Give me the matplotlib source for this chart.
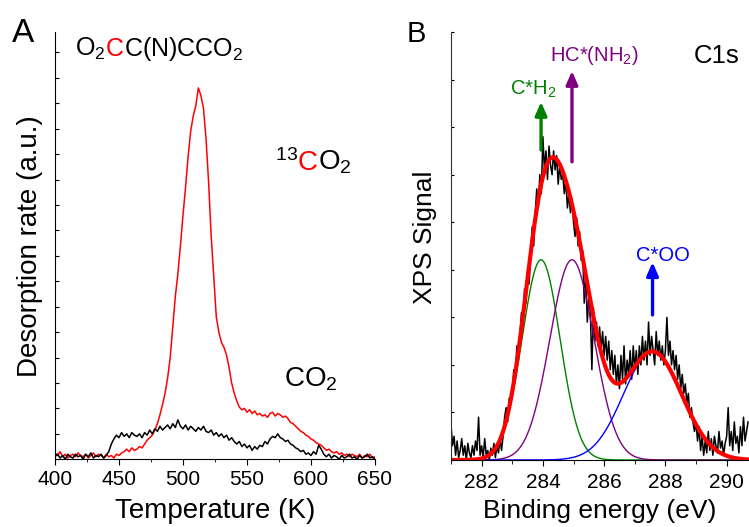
import numpy as np
import matplotlib
matplotlib.use('Agg')
import matplotlib.pyplot as plt
from matplotlib.ticker import MultipleLocator, NullFormatter

plt.rcParams['font.family'] = 'Liberation Sans'
plt.rcParams['mathtext.default'] = 'regular'

# ---- panel A: TPD, desorption rate vs temperature (arb. units) ----
temp_K = np.arange(400, 651, 2)
rate_13co2 = [
    0.25, 0.15, 0.3, 0.1, 0.2, 0.05, 0.15, 0.2, 0.1, 0.25,
    0.15, 0.1, 0.2, 0.05, 0.15, 0.25, 0.1, 0.2, 0.15, 0.05,
    0.2, 0.1, 0.15, 0.05, 0.2, 0.15, 0.25, 0.3, 0.4, 0.3,
    0.45, 0.35, 0.4, 0.5, 0.45, 0.6, 0.75, 0.85, 0.95, 1.15,
    1.4, 1.75, 2.15, 2.6, 3.2, 4.0, 5.2, 6.4, 7.3, 8.4,
    9.6, 10.7, 11.9, 12.9, 13.5, 13.9, 14.6, 14.3, 13.8, 12.6,
    10.9, 8.8, 7.2, 5.6, 5.0, 4.6, 4.4, 4.1, 3.6, 3.0,
    2.6, 2.3, 2.05, 1.95, 2.0, 1.85, 1.95, 1.8, 1.9, 1.75,
    1.8, 1.7, 1.75, 1.65, 1.8, 1.85, 1.7, 1.8, 1.75, 1.65,
    1.7, 1.6, 1.45, 1.4, 1.3, 1.2, 1.1, 1.05, 0.95, 0.9,
    0.8, 0.75, 0.65, 0.6, 0.55, 0.45, 0.35, 0.4, 0.3, 0.25,
    0.3, 0.2, 0.25, 0.15, 0.2, 0.1, 0.2, 0.15, 0.1, 0.2,
    0.05, 0.15, 0.1, 0.2, 0.05, 0.1,
]
rate_co2 = [
    0.1, 0.2, 0.05, 0.15, 0.0, 0.2, 0.1, 0.05, 0.2, 0.1,
    0.15, 0.0, 0.2, 0.1, 0.25, 0.05, 0.15, 0.1, 0.2, 0.05,
    0.15, 0.3, 0.6, 0.8, 0.95, 0.85, 1.05, 0.9, 1.0, 0.85,
    1.05, 0.95, 0.9, 1.0, 0.85, 1.05, 0.95, 1.15, 1.0, 1.2,
    1.1, 1.3, 1.15, 1.25, 1.35, 1.2, 1.4, 1.25, 1.55, 1.3,
    1.2, 1.35, 1.15, 1.3, 1.2, 1.1, 1.25, 1.15, 1.3, 1.1,
    1.05, 1.15, 0.95, 1.05, 0.9, 1.0, 0.85, 0.95, 0.75, 0.85,
    0.7, 0.6, 0.7, 0.5, 0.6, 0.45, 0.55, 0.35, 0.5, 0.4,
    0.55, 0.5, 0.7, 0.6, 0.8, 0.9, 0.85, 1.0, 0.85, 0.8,
    0.7, 0.75, 0.6, 0.55, 0.45, 0.4, 0.3, 0.35, 0.2, 0.25,
    0.15, 0.3, 0.2, 0.55, 0.4, 0.2, 0.1, 0.2, 0.05, 0.15,
    0.1, 0.0, 0.15, 0.05, 0.1, 0.2, 0.05, 0.1, 0.0, 0.15,
    0.05, 0.1, 0.2, 0.05, 0.1, 0.0,
]

# ---- panel B: C1s XPS ----
be_eV = np.round(281.0 + 0.05 * np.arange(195), 2)
xps_signal = [
    0.75, 0.3, 0.5, 0.1, 0.4, 0.05, 0.2, 0.45, 0.1, 0.3, 0.0, 0.35, 0.15, 0.05, 0.3, 0.1, 0.4, 0.2, 0.9, 0.1,
    0.3, 0.05, 0.45, 0.1, 0.2, 0.0, 0.25, 0.1, 0.35, 0.05, 0.3, 0.15, 0.45, 0.2, 0.5, 0.9, 1.1, 0.8, 1.3, 1.25,
    1.45, 1.9, 1.7, 2.4, 2.1, 2.6, 3.1, 2.8, 3.6, 3.3, 4.0, 3.7, 4.3, 4.9, 4.5, 5.2, 5.7, 5.3, 6.0, 5.6,
    6.8, 6.1, 6.5, 5.9, 6.6, 6.2, 6.0, 6.5, 6.1, 6.4, 5.8, 6.2, 5.9, 6.0, 5.6, 5.9, 5.3, 5.6, 5.2, 5.5,
    5.0, 4.7, 5.1, 4.5, 4.8, 4.2, 4.4, 3.3, 3.9, 2.9, 3.4, 3.1, 1.9, 3.2, 2.5, 2.9, 2.4, 2.8, 2.3, 2.7,
    2.2, 2.6, 2.1, 2.5, 1.9, 2.3, 1.8, 2.2, 1.6, 2.0, 1.5, 2.2, 1.7, 2.4, 1.6, 2.1, 1.8, 2.3, 1.7, 2.4,
    1.9, 2.3, 1.8, 2.4, 2.0, 2.6, 2.1, 2.5, 2.0, 2.9, 2.2, 2.6, 2.3, 2.0, 2.7, 2.2, 2.5, 2.1, 2.4, 2.0,
    2.3, 3.0, 2.2, 2.5, 2.0, 2.3, 1.9, 2.2, 1.7, 2.0, 1.5, 1.8, 1.4, 1.6, 1.2, 1.4, 0.9, 1.1, 0.8, 0.6,
    0.8, 0.4, 0.7, 0.2, 0.5, 0.1, 0.4, 0.15, 0.6, 0.2, 0.45, 0.1, 0.5, 0.3, 0.15, 0.6, 0.25, 0.4, 0.1, 0.35,
    0.5, 1.1, 0.3, 0.6, 0.2, 0.8, 0.35, 0.5, 0.15, 0.7, 0.3, 0.9, 0.4, 0.6, 0.8,
]
# gaussian fit components (center eV, height, sigma eV)
peak_labels = ['C*H$_2$', 'HC*(NH$_2$)', 'C*OO']
peak_center = [283.94, 284.95, 287.58]
peak_height = [4.21, 4.21, 2.28]
peak_sigma = [0.62, 0.72, 0.95]
peak_colors = ['#008000', '#800080', '#0000ff']

W, H = 749, 527
fig = plt.figure(figsize=(W / 100, H / 100), dpi=100)


def px(x, y):
    return x / W, 1 - y / H


# ---------------- A ----------------
axA = fig.add_axes([55 / W, (H - 459.3) / H, 320 / W, 427.3 / H])
axA.plot(temp_K, rate_13co2, color='#ff0000', lw=1.1)
axA.plot(temp_K, rate_co2, color='black', lw=1.1)
axA.set_xlim(400, 650)
axA.set_ylim(0, 16.8)
axA.xaxis.set_major_locator(MultipleLocator(50))
axA.xaxis.set_minor_locator(MultipleLocator(25))
axA.yaxis.set_major_locator(MultipleLocator(1))
axA.yaxis.set_major_formatter(NullFormatter())
axA.tick_params(axis='x', which='major', direction='out', length=4, labelsize=15, pad=3.5)
axA.tick_params(axis='x', which='minor', direction='out', length=2.5)
axA.tick_params(axis='y', which='major', direction='in', length=3)
for s in ['top', 'right']:
    axA.spines[s].set_visible(False)
axA.set_xlabel('Temperature (K)', fontsize=20)
axA.set_ylabel('Desorption rate (a.u.)', fontsize=20)
axA.xaxis.set_label_coords(0.5, -0.091)
axA.yaxis.set_label_coords(-0.039, 0.5)

# ---------------- B ----------------
axB = fig.add_axes([451 / W, (H - 460) / H, 298 / W, 428 / H])
x_fit = np.linspace(281.0, 290.73, 600)
comps = []
for c, h, s in zip(peak_center, peak_height, peak_sigma):
    comps.append(h * np.exp(-(x_fit - c) ** 2 / (2 * s ** 2)))
total_fit = np.sum(comps, axis=0)

axB.plot(be_eV, xps_signal, color='black', lw=1.1)
for comp, col in zip(comps, peak_colors):
    axB.plot(x_fit, comp, color=col, lw=1.0)
axB.plot(x_fit, total_fit, color='#ff0000', lw=3.0)
axB.set_xlim(281.0, 290.73)
axB.set_ylim(0, 9)
axB.xaxis.set_major_locator(MultipleLocator(2))
axB.xaxis.set_minor_locator(MultipleLocator(1))
axB.yaxis.set_major_locator(MultipleLocator(1))
axB.yaxis.set_major_formatter(NullFormatter())
axB.tick_params(axis='x', which='major', direction='out', length=4, labelsize=15, pad=5)
axB.tick_params(axis='x', which='minor', direction='out', length=3)
axB.tick_params(axis='y', which='major', direction='in', length=2.5)
for s in ['top', 'right']:
    axB.spines[s].set_visible(False)
axB.spines['left'].set_color('#333333')
axB.set_xlabel('Binding energy (eV)', fontsize=19)
axB.set_ylabel('XPS Signal', fontsize=19)
axB.xaxis.set_label_coords(0.5, -0.092)
axB.yaxis.set_label_coords(-0.047, 0.521)

# arrows marking the fitted peaks
arrow_from = [6.52, 6.27, 3.05]
arrow_to = [7.53, 8.18, 4.16]
for c, y0, y1, col in zip(peak_center, arrow_from, arrow_to, peak_colors):
    axB.annotate('', xy=(c, y1), xytext=(c, y0),
                 arrowprops=dict(arrowstyle='-|>,head_length=0.8,head_width=0.35',
                                 color=col, lw=2.4, shrinkA=0, shrinkB=0))

# ---------------- texts ----------------
renderer = fig.canvas.get_renderer()


def pieces_text(x_px, y_px, pieces, size):
    x, y = px(x_px, y_px)
    for s, col in pieces:
        t = fig.text(x, y, s, color=col, fontsize=size, ha='left', va='baseline')
        bb = t.get_window_extent(renderer=renderer)
        x = bb.x1 / fig.bbox.width


pieces_text(75, 56, [('O$_2$', 'black'), ('C', '#ff0000'), ('C(N)CCO$_2$', 'black')], 18)
pieces_text(275, 170, [('${}^{13}$', 'black'), ('C', '#ff0000'), ('O$_2$', 'black')], 20)
fig.text(*px(284, 386.7), 'CO$_2$', fontsize=20, va='baseline')

fig.text(*px(11.7, 41.7), 'A', fontsize=24, va='baseline')
fig.text(*px(406.7, 41.7), 'B', fontsize=21, va='baseline')
fig.text(*px(694, 63), 'C1s', fontsize=18.5, va='baseline')

label_pos = [(510, 94.3), (550, 61), (635.7, 260.7)]
for lab, (lx, ly), col in zip(peak_labels, label_pos, peak_colors):
    fig.text(*px(lx, ly), lab, color=col, fontsize=14.5, va='baseline')

fig.savefig('out.png', dpi=100)
